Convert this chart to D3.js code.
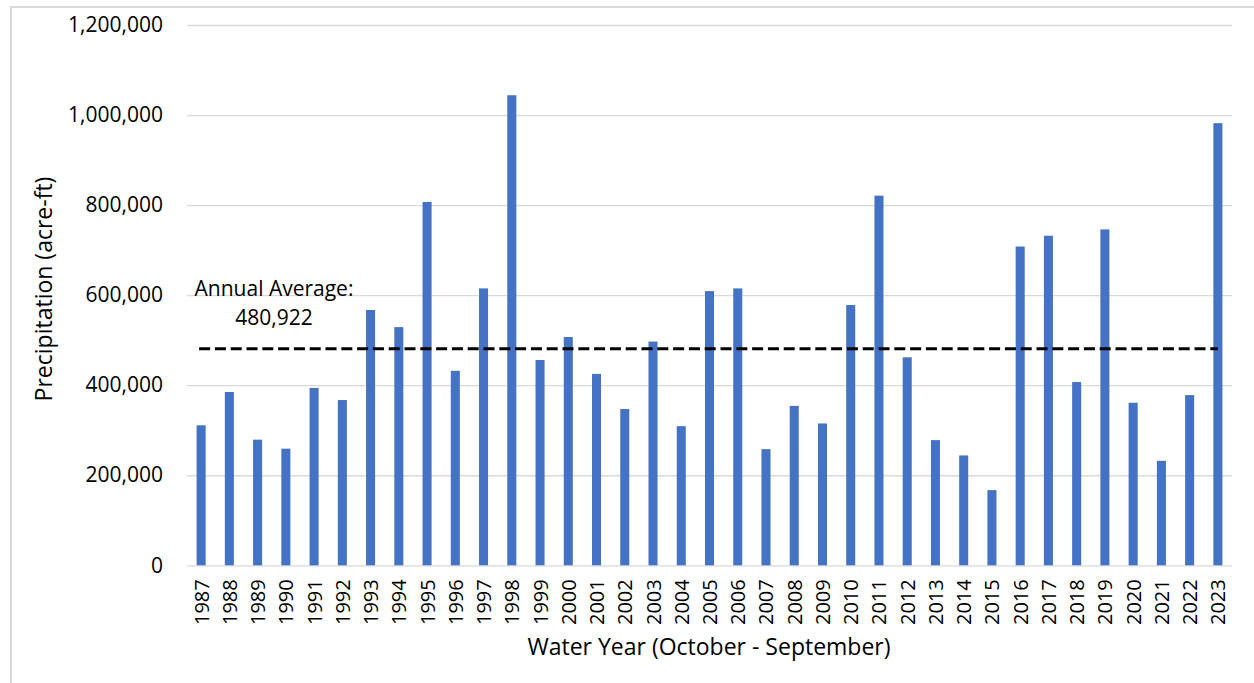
<!DOCTYPE html>
<html>
<head>
<meta charset="utf-8">
<script src="https://cdn.jsdelivr.net/npm/d3@7"></script>
<style>
  html, body { margin: 0; padding: 0; background: #fff; }
  svg { display: block; font-family: "Open Sans", "Noto Sans", sans-serif; }
</style>
</head>
<body>
<svg id="chart" width="1254" height="683"></svg>
<script>
// Water years (October - September)
const years = ["1987","1988","1989","1990","1991","1992","1993","1994","1995","1996",
  "1997","1998","1999","2000","2001","2002","2003","2004","2005","2006",
  "2007","2008","2009","2010","2011","2012","2013","2014","2015","2016",
  "2017","2018","2019","2020","2021","2022","2023"];

// Annual precipitation, acre-ft
const precipitation = [311000, 385000, 279000, 259000, 394000, 367000, 567000, 529000, 807000, 432000,
  615000, 1044000, 456000, 507000, 425000, 347000, 497000, 309000, 609000, 615000,
  258000, 354000, 315000, 578000, 821000, 462000, 278000, 244000, 167000, 708000,
  732000, 407000, 746000, 361000, 232000, 378000, 982000];

const annualAverage = 480922;
const yTicks = [0, 200000, 400000, 600000, 800000, 1000000, 1200000];

const svg = d3.select("#chart");

const plot = { left: 187, right: 1232, top: 25, bottom: 565.3 };

const x = d3.scaleBand()
  .domain(years)
  .range([plot.left, plot.right])
  .paddingInner(0.68)
  .paddingOuter(0.34);

const y = d3.scaleLinear()
  .domain([0, 1200000])
  .range([plot.bottom, plot.top]);

const fmt = d3.format(",");

// Chart frame (top and left edges visible)
svg.append("path")
  .attr("d", "M11,683 L11,7 L1254,7")
  .attr("fill", "none")
  .attr("stroke", "#d9d9d9")
  .attr("stroke-width", 2);

// Horizontal gridlines and y tick labels
const yAxis = d3.axisLeft(y)
  .tickValues(yTicks)
  .tickSize(-(plot.right - plot.left))
  .tickPadding(24)
  .tickFormat(d => fmt(d));

const gy = svg.append("g")
  .attr("transform", `translate(${plot.left},0)`)
  .call(yAxis);
gy.select(".domain").remove();
gy.selectAll(".tick line").attr("stroke", "#d9d9d9").attr("stroke-width", 1.3);
gy.selectAll(".tick text")
  .attr("fill", "#000")
  .style("font-size", "21px")
  .style("font-family", "'Open Sans', sans-serif");

// Bars
svg.append("g")
  .selectAll("rect")
  .data(years)
  .join("rect")
  .attr("x", d => x(d))
  .attr("width", x.bandwidth())
  .attr("y", (d, i) => y(precipitation[i]))
  .attr("height", (d, i) => y(0) - y(precipitation[i]))
  .attr("fill", "#4472c4");

// Year labels along the bottom
const xAxis = d3.axisBottom(x).tickSize(0).tickPadding(0);
const gx = svg.append("g")
  .attr("transform", `translate(0,${plot.bottom})`)
  .call(xAxis);
gx.select(".domain").remove();
gx.selectAll(".tick text")
  .attr("fill", "#000")
  .attr("text-anchor", "end")
  .attr("dominant-baseline", "central")
  .attr("transform", "translate(0,14) rotate(-90)")
  .attr("x", 0)
  .attr("y", 0)
  .attr("dy", null)
  .style("font-size", "20px")
  .style("font-family", "'Open Sans', sans-serif");

// Annual average reference line
const avgY = y(annualAverage);
svg.append("line")
  .attr("x1", x(years[0]) + x.bandwidth() / 2 - 2)
  .attr("x2", x(years[years.length - 1]) + x.bandwidth() / 2)
  .attr("y1", avgY)
  .attr("y2", avgY)
  .attr("stroke", "#000")
  .attr("stroke-width", 3.2)
  .attr("stroke-dasharray", "11,4.8");

// Annotation for the average
const note = svg.append("text")
  .attr("text-anchor", "middle")
  .attr("fill", "#000")
  .style("font-size", "21px")
  .style("font-family", "'Open Sans', sans-serif");
note.append("tspan").attr("x", 274).attr("y", 296).text("Annual Average:");
note.append("tspan").attr("x", 274).attr("y", 325).text(fmt(annualAverage));

// Axis titles
svg.append("text")
  .attr("x", 709)
  .attr("y", 655)
  .attr("text-anchor", "middle")
  .attr("fill", "#000")
  .style("font-size", "23px")
  .text("Water Year (October - September)");

svg.append("text")
  .attr("transform", `translate(52,289) rotate(-90)`)
  .attr("text-anchor", "middle")
  .attr("fill", "#000")
  .style("font-size", "23px")
  .text("Precipitation (acre-ft)");
</script>
</body>
</html>
